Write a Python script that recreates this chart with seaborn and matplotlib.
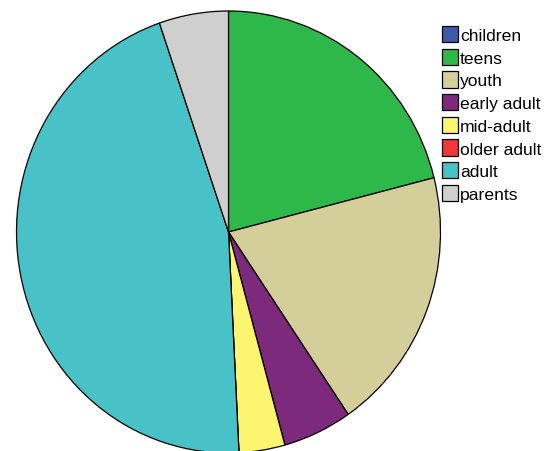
import matplotlib
matplotlib.use("Agg")
import matplotlib.pyplot as plt
import seaborn as sns

categories = ["children", "teens", "youth", "early adult", "mid-adult",
              "older adult", "adult", "parents"]
values = [0.0, 21.05, 19.4, 5.26, 3.5, 0.0, 45.5, 5.28]
colors = ["#3e58ac", "#2fb84a", "#d4cf9a", "#7e2a7c", "#fbf56f",
          "#f0373a", "#48c2c6", "#cfcfcf"]

sns.set_theme(style="white")
plt.rcParams["font.family"] = ["Liberation Sans", "DejaVu Sans"]

W, H = 555, 452
fig = plt.figure(figsize=(W / 100, H / 100), dpi=100)
# ellipse: center (228.5, 233) px, rx 212, ry 221
cx, cy, rx, ry = 228.5, 233.0, 212.0, 221.0
ax = fig.add_axes([(cx - rx) / W, (H - (cy + ry)) / H, 2 * rx / W, 2 * ry / H])

wedges, _ = ax.pie(values, colors=colors, startangle=90, counterclock=False,
                   radius=1.0,
                   wedgeprops=dict(edgecolor="black", linewidth=0.9))
ax.set_aspect("auto")
ax.set_xlim(-1, 1)
ax.set_ylim(-1, 1)
ax.axis("off")
for w in wedges:
    w.set_clip_on(False)

leg = fig.legend(wedges, categories, loc="upper left",
                 bbox_to_anchor=(441.5 / W, 1 - 27 / H),
                 frameon=False, fontsize=12.6, borderpad=0, borderaxespad=0,
                 handlelength=0.95, handleheight=1.05, handletextpad=0.1,
                 labelspacing=0.32, labelcolor="black")
for h in leg.legend_handles:
    h.set_edgecolor("black")
    h.set_linewidth(0.9)

fig.savefig("out.png", dpi=100)
